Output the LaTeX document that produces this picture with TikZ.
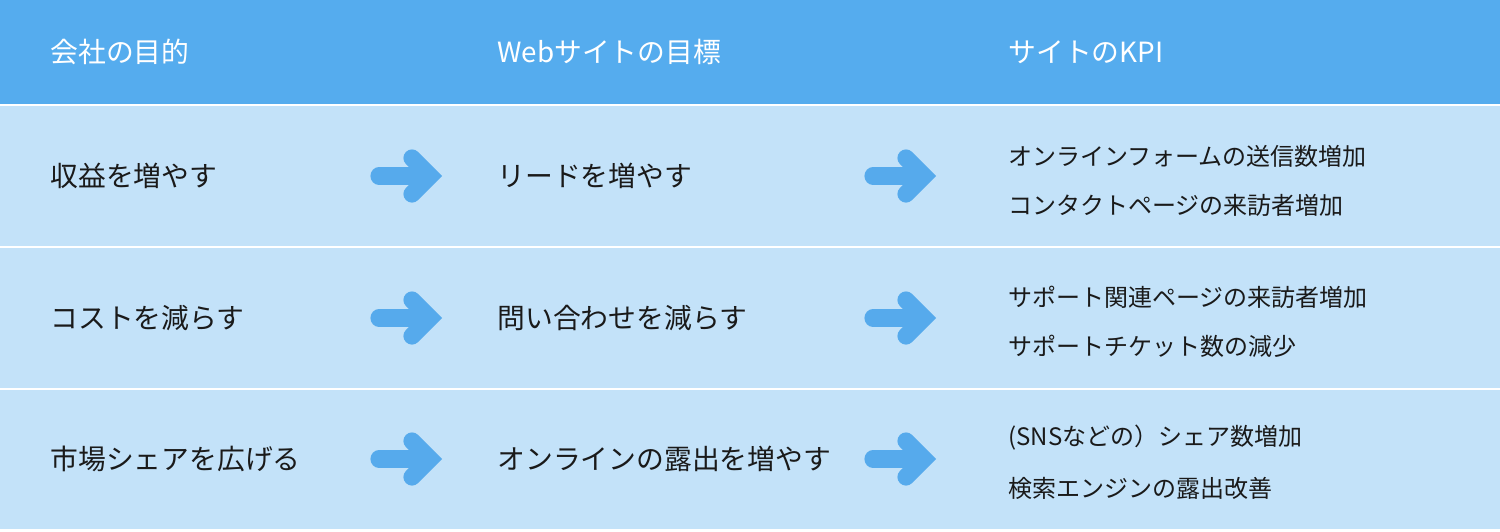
\documentclass[tikz,border=0pt]{standalone}
\usepackage{fontspec}
\setmainfont{Noto Sans CJK JP}
\definecolor{hdr}{HTML}{55ACEE}
\definecolor{rowbg}{HTML}{C3E2F9}
\definecolor{arr}{HTML}{56AAEC}
\definecolor{txt}{HTML}{1A1A1A}
\tikzset{
  hdrtext/.style={anchor=west,inner sep=0pt,text=white,font=\fontsize{13.9}{16}\selectfont},
  maintext/.style={anchor=west,inner sep=0pt,text=txt,font=\fontsize{13.9}{16}\selectfont},
  kpitext/.style={anchor=west,inner sep=0pt,text=txt,font=\fontsize{12}{14}\selectfont},
  bigarrow/.style={draw=arr,line width=8.6pt,line cap=round,miter limit=10}
}
\begin{document}
\begin{tikzpicture}[x=0.5pt,y=-0.5pt]
\useasboundingbox (0,0) rectangle (1500,531);
\fill[white] (0,0) rectangle (1500,531);
\fill[hdr] (0,0) rectangle (1500,104);
\fill[rowbg] (0,106) rectangle (1500,245.5);
\fill[rowbg] (0,248) rectangle (1500,387.5);
\fill[rowbg] (0,390) rectangle (1500,529);
% header
\node[hdrtext] (h1) at (50,52) {会社の目的};
\node[hdrtext] (h2) at (497,52) {Webサイトの目標};
\node[hdrtext] (h3) at (1008,52) {サイトのKPI};
% rows
\node[maintext] (a1) at (50,176) {収益を増やす};
\node[maintext] (b1) at (497,176) {リードを増やす};
\node[kpitext] (c1a) at (1008,156) {オンラインフォームの送信数増加};
\node[kpitext] (c1b) at (1008,205) {コンタクトページの来訪者増加};
\node[maintext] (a2) at (50,318) {コストを減らす};
\node[maintext] (b2) at (497,318) {問い合わせを減らす};
\node[kpitext] (c2a) at (1008,297) {サポート関連ページの来訪者増加};
\node[kpitext] (c2b) at (1008,346) {サポートチケット数の減少};
\node[maintext] (a3) at (50,459) {市場シェアを広げる};
\node[maintext] (b3) at (497,459) {オンラインの露出を増やす};
\node[kpitext] (c3a) at (1008,438) {(SNSなどの）シェア数増加};
\node[kpitext] (c3b) at (1008,488) {検索エンジンの露出改善};
% arrows
\foreach \yy in {176,318,459}{
  \foreach \xx in {370,864}{
    \draw[bigarrow] (\xx+9,\yy) -- (\xx+59,\yy);
    \draw[bigarrow,line join=miter] (\xx+42,\yy-18) -- (\xx+60,\yy) -- (\xx+42,\yy+18);
  }
}
\end{tikzpicture}
\end{document}
